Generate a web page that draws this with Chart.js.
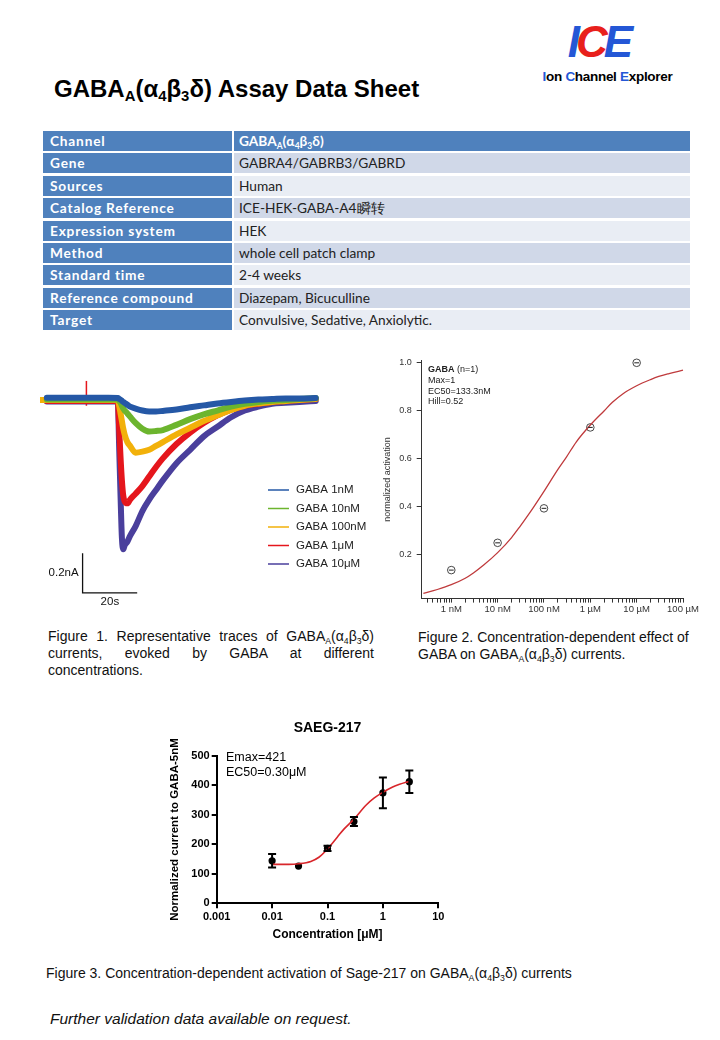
<!DOCTYPE html>
<html>
<head>
<meta charset="utf-8">
<script src="https://cdn.jsdelivr.net/npm/chart.js@4.4.0/dist/chart.umd.min.js"></script>
<style>
body { margin:0; width:720px; height:1040px; background:#fff; position:relative; overflow:hidden; font-family:"Liberation Sans", Arial, sans-serif; color:#000; }
.abs { position:absolute; }
sub { font-size:0.62em; vertical-align:-0.3em; line-height:0; }
#title { left:54px; top:75px; font-size:24px; font-weight:bold; white-space:nowrap; }
#logo { left:535px; top:20px; width:145px; text-align:center; }
#logo .big { font-size:44px; font-weight:900; font-style:italic; letter-spacing:-4px; line-height:44px; padding-right:18px; }
#logo .small { font-size:13.5px; font-weight:bold; letter-spacing:-0.3px; margin-top:5px; white-space:nowrap; }
.row { position:absolute; left:43px; width:647px; height:20px; font-family:Lato, "Open Sans", sans-serif; font-size:13.7px; }
.row div { position:absolute; top:0; height:20px; line-height:20px; white-space:nowrap; }
.row .k { left:0; width:182px; padding-left:7px; background:#4f81bd; color:#fff; font-weight:bold; letter-spacing:0.8px; }
.row .v { left:191px; width:451px; padding-left:5px; color:#222; }
.cap { font-size:14px; line-height:17px; color:#111; }
canvas { position:absolute; }
</style>
</head>
<body>
<div id="title" class="abs">GABA<sub>A</sub>(α<sub>4</sub>β<sub>3</sub>δ) Assay Data Sheet</div>
<div id="logo" class="abs">
  <div class="big"><span style="color:#2457d6">I</span><span style="color:#e8201c">C</span><span style="color:#2457d6">E</span></div>
  <div class="small"><span style="color:#2457d6">I</span>on <span style="color:#2457d6">C</span>hannel <span style="color:#2457d6">E</span>xplorer</div>
</div>
<div id="table"></div>

<canvas id="fig1" width="345" height="245" style="left:30px;top:370px"></canvas>
<canvas id="fig2" width="320" height="267" style="left:380px;top:350px"></canvas>
<canvas id="fig3" width="290" height="235" style="left:160px;top:715px"></canvas>

<div class="abs cap" style="left:48px;top:628px;width:326px;text-align:justify;text-align-last:left">Figure 1. Representative traces of GABA<sub>A</sub>(α<sub>4</sub>β<sub>3</sub>δ) currents, evoked by GABA at different concentrations.</div>
<div class="abs cap" style="left:418px;top:629px;width:282px">Figure 2. Concentration-dependent effect of GABA on GABA<sub>A</sub>(α<sub>4</sub>β<sub>3</sub>δ) currents.</div>
<div class="abs cap" style="left:46px;top:965px;white-space:nowrap">Figure 3. Concentration-dependent activation of Sage-217 on GABA<sub>A</sub>(α<sub>4</sub>β<sub>3</sub>δ) currents</div>
<div class="abs" style="left:50px;top:1010px;font-size:15.5px;font-style:italic;color:#111">Further validation data available on request.</div>

<script>
// ---- table ----
const tableKeys = ['Channel', 'Gene', 'Sources', 'Catalog Reference', 'Expression system', 'Method', 'Standard time', 'Reference compound', 'Target'];
const tableVals = ['GABA<sub>A</sub>(α<sub>4</sub>β<sub>3</sub>δ)', 'GABRA4/GABRB3/GABRD', 'Human', 'ICE-HEK-GABA-A4瞬转', 'HEK',
  'whole cell patch clamp', '2-4 weeks', 'Diazepam, Bicuculline', 'Convulsive, Sedative, Anxiolytic.'];

// ---- figure 1: traces (time in s, current in nA) ----
const traceTime = [0, 2.5, 5, 10, 15, 16.8, 17, 17.2, 20, 25, 28.5, 29, 29.5, 30, 30.5, 31, 32, 33, 35, 37.5, 40, 42.5, 45, 50, 55, 60, 65, 70, 75, 80, 85, 90, 95, 101];
const gaba1nM   = [null, 0.012, 0.012, 0.012, 0.012, 0.012, 0.012, 0.012, 0.012, 0.012, 0.01, 0.006, 0.002, -0.004, -0.01, -0.015, -0.025, -0.035, -0.045, -0.055, -0.06, -0.06, -0.057, -0.05, -0.038, -0.028, -0.018, -0.01, -0.003, 0.002, 0.005, 0.008, 0.008, 0.01];
const gaba10nM  = [null, 0.003, 0.003, 0.003, 0.003, 0.003, 0.003, 0.003, 0.003, 0.003, 0.003, -0.005, -0.015, -0.03, -0.045, -0.055, -0.07, -0.087, -0.12, -0.15, -0.165, -0.162, -0.157, -0.13, -0.1, -0.075, -0.055, -0.035, -0.02, -0.01, -0.004, 0, 0.005, 0.01];
const gaba100nM = [0, 0, 0, 0, 0, 0, 0, 0, 0, 0, 0, -0.03, -0.07, -0.11, -0.15, -0.18, -0.22, -0.24, -0.275, -0.27, -0.26, -0.24, -0.22, -0.18, -0.145, -0.11, -0.08, -0.052, -0.03, -0.018, -0.01, -0.005, 0, 0.005];
const gaba1uM   = [null, -0.005, -0.005, -0.005, -0.005, -0.005, -0.005, -0.005, -0.005, -0.005, -0.005, -0.15, -0.3, -0.42, -0.5, -0.53, -0.54, -0.52, -0.49, -0.45, -0.4, -0.35, -0.305, -0.23, -0.17, -0.12, -0.08, -0.05, -0.03, -0.02, -0.01, -0.005, 0, 0.005];
const gaba10uM  = [null, -0.008, -0.008, -0.008, -0.008, -0.008, -0.008, -0.008, -0.008, -0.008, -0.008, -0.25, -0.5, -0.72, -0.78, -0.76, -0.74, -0.71, -0.66, -0.58, -0.52, -0.47, -0.42, -0.33, -0.26, -0.19, -0.14, -0.09, -0.055, -0.035, -0.02, -0.015, -0.01, -0.005];
const spikeTime = [17, 17];
const spikeVal = [-0.03, 0.1];
const traceLabels = ['GABA 1nM', 'GABA 10nM', 'GABA 100nM', 'GABA 1μM', 'GABA 10μM'];
const traceColors = ['#2558a6', '#6cb52e', '#f2b10a', '#e5161c', '#4a3f9c'];
const barTime = [15.6, 15.6, 35.6];
const barVal = [-0.8, -1.008, -1.008];

// ---- figure 2: GABA concentration-response (nM) ----
const gabaConc = [1, 10, 100, 1000, 10000];
const gabaAct = [0.134, 0.248, 0.392, 0.73, 1.0];
const gabaFitConc = [0.25, 0.5, 1, 2, 3, 5, 10, 20, 30, 50, 100, 200, 300, 500, 1000, 2000, 3000, 5000, 10000, 20000, 30000, 50000, 100000];
const gabaFitAct = [0.037, 0.053, 0.073, 0.1, 0.122, 0.155, 0.207, 0.27, 0.315, 0.375, 0.463, 0.555, 0.604, 0.67, 0.74, 0.8, 0.835, 0.87, 0.904, 0.93, 0.943, 0.955, 0.969];
const gabaTickLabels = { 1: '1 nM', 10: '10 nM', 100: '100 nM', 1000: '1 µM', 10000: '10 µM', 100000: '100 µM' };

// ---- figure 3: SAEG-217 (µM) ----
const saegConc = [0.01, 0.03, 0.1, 0.3, 1, 3];
const saegMean = [144, 126, 186, 277, 374, 412];
const saegErr = [23, 0, 9, 15, 52, 38];
const saegFitConc = [0.01, 0.02, 0.03, 0.05, 0.07, 0.1, 0.15, 0.2, 0.3, 0.5, 0.7, 1, 1.5, 2, 3];
const saegFitVal = [132, 132, 134, 142, 156, 184, 224, 252, 285, 333, 357, 376, 394, 403, 413];
const saegXTicks = [0.001, 0.01, 0.1, 1, 10];

// table
const tbl = document.getElementById('table');
tableKeys.forEach((k, i) => {
  const r = document.createElement('div');
  r.className = 'row';
  r.style.top = (131 + i * 22.4) + 'px';
  if (i === 0) r.style.height = '21px';
  let bg = i === 0 ? '#4f81bd' : (i % 2 === 1 ? '#d0d8e8' : '#e9edf4');
  let col = i === 0 ? 'color:#fff;font-weight:bold;' : '';
  r.innerHTML = '<div class="k">' + k + '</div><div class="v" style="background:' + bg + ';' + col + '">' + tableVals[i] + '</div>';
  tbl.appendChild(r);
});

Chart.defaults.font.family = '"Liberation Sans", Arial, sans-serif';
Chart.defaults.animation = false;

const xy = (xs, ys) => xs.map((x, i) => ({ x: x, y: ys[i] }));

// figure 1
const fig1Labels = {
  id: 'fig1Labels',
  afterDraw(chart) {
    const { ctx, scales: { x, y } } = chart;
    ctx.save();
    traceLabels.forEach((lab, i) => {
      const yy = 120 + i * 18.5;
      ctx.strokeStyle = traceColors[i];
      ctx.lineWidth = 1.5;
      ctx.beginPath(); ctx.moveTo(238, yy); ctx.lineTo(259, yy); ctx.stroke();
      ctx.fillStyle = '#222';
      ctx.font = '11.5px "Liberation Sans", Arial';
      ctx.textBaseline = 'middle';
      ctx.fillText(lab, 266, yy);
    });
    ctx.fillStyle = '#111';
    ctx.font = '11.5px "Liberation Sans", Arial';
    ctx.textAlign = 'right';
    ctx.textBaseline = 'middle';
    ctx.fillText('0.2nA', x.getPixelForValue(barTime[0]) - 4, y.getPixelForValue(-0.905));
    ctx.textAlign = 'center';
    ctx.textBaseline = 'top';
    ctx.fillText('20s', x.getPixelForValue(25.6), y.getPixelForValue(barVal[2]) + 3);
    ctx.restore();
  }
};

const traces = [gaba1nM, gaba10nM, gaba100nM, gaba1uM, gaba10uM];
new Chart(document.getElementById('fig1'), {
  type: 'line',
  data: {
    datasets: traces.map((vals, i) => ({
      data: xy(traceTime, vals),
      borderColor: traceColors[i],
      borderWidth: 6,
      pointRadius: 0,
      cubicInterpolationMode: 'monotone',
      borderJoinStyle: 'round',
      borderCapStyle: 'round'
    })).concat([
      { data: xy(spikeTime, spikeVal), borderColor: traceColors[3], borderWidth: 1.5, pointRadius: 0 },
      { data: xy(barTime, barVal), borderColor: '#111', borderWidth: 1.3, pointRadius: 0, tension: 0 }
    ])
  },
  options: {
    responsive: false,
    layout: { padding: { left: 10, top: 10.85, right: 7.4, bottom: 14 } },
    plugins: { legend: { display: false }, tooltip: { enabled: false } },
    scales: {
      x: { type: 'linear', min: 0, max: 120, display: false },
      y: { min: -1.05, max: 0.1, display: false }
    }
  },
  plugins: [fig1Labels]
});

// figure 2
const fig2Text = {
  id: 'fig2Text',
  afterDatasetsDraw(chart) {
    const { ctx, scales: { x, y } } = chart;
    ctx.save();
    ctx.strokeStyle = '#333';
    ctx.lineWidth = 1.1;
    gabaConc.forEach((c, i) => {
      const px = x.getPixelForValue(c), py = y.getPixelForValue(gabaAct[i]);
      ctx.beginPath(); ctx.moveTo(px - 2.4, py); ctx.lineTo(px + 2.4, py); ctx.stroke();
    });
    ctx.restore();
  },
  afterDraw(chart) {
    const { ctx } = chart;
    ctx.save();
    ctx.fillStyle = '#222';
    ctx.textBaseline = 'middle';
    ctx.font = 'bold 9px "Liberation Sans", Arial';
    ctx.fillText('GABA', 48, 20);
    const w = ctx.measureText('GABA ').width;
    ctx.font = '9px "Liberation Sans", Arial';
    ctx.fillText('(n=1)', 48 + w, 20);
    ctx.fillText('Max=1', 48, 31);
    ctx.fillText('EC50=133.3nM', 48, 42);
    ctx.fillText('Hill=0.52', 48, 52);
    ctx.restore();
  }
};

const minorTicks2 = [];
[0.1, 1, 10, 100, 1000, 10000].forEach(d => {
  for (let m = 1; m < 10; m++) { const v = d * m; if (v >= 0.3) minorTicks2.push(v); }
});
minorTicks2.push(100000);

new Chart(document.getElementById('fig2'), {
  type: 'scatter',
  data: {
    datasets: [
      { data: xy(gabaFitConc, gabaFitAct), showLine: true, borderColor: '#bf3a3c', borderWidth: 1.3, pointRadius: 0, cubicInterpolationMode: 'monotone' },
      { data: xy(gabaConc, gabaAct), clip: false, pointRadius: 3.8, pointBorderWidth: 0.9, pointBorderColor: '#333', pointBackgroundColor: '#fff' }
    ]
  },
  options: {
    responsive: false,
    layout: { padding: { left: 0, top: 10.3, right: 14, bottom: 0 } },
    plugins: { legend: { display: false }, tooltip: { enabled: false } },
    scales: {
      x: {
        type: 'logarithmic', min: 0.23, max: 105000,
        afterBuildTicks: s => { s.ticks = minorTicks2.map(v => ({ value: v })); },
        afterFit: s => { s.height = 18.4; },
        ticks: { autoSkip: false, maxRotation: 0, padding: 1, color: '#333', font: { size: 9.5 }, callback: v => gabaTickLabels[v] || '' },
        grid: { drawOnChartArea: false, tickLength: 4, color: '#333' },
        border: { color: '#333', width: 1 }
      },
      y: {
        min: 0.015, max: 1.01,
        afterBuildTicks: s => { s.ticks = [0.2, 0.4, 0.6, 0.8, 1.0].map(v => ({ value: v })); },
        afterFit: s => { s.width = 41.7; },
        ticks: { padding: 5, color: '#333', font: { size: 9 }, callback: v => v.toFixed(1) },
        grid: { drawOnChartArea: false, tickLength: 5, color: '#333' },
        border: { color: '#333', width: 1 },
        title: { display: true, text: 'normalized activation', color: '#333', font: { size: 9 }, padding: { top: 2.6, bottom: 0 } }
      }
    }
  },
  plugins: [fig2Text]
});

// figure 3
const errorBars = {
  id: 'errorBars',
  afterDatasetsDraw(chart) {
    const { ctx, scales: { x, y } } = chart;
    ctx.save();
    ctx.strokeStyle = '#000';
    ctx.lineWidth = 2;
    saegConc.forEach((c, i) => {
      if (!saegErr[i]) return;
      const px = x.getPixelForValue(c);
      const top = y.getPixelForValue(saegMean[i] + saegErr[i]);
      const bot = y.getPixelForValue(saegMean[i] - saegErr[i]);
      ctx.beginPath();
      ctx.moveTo(px, top); ctx.lineTo(px, bot);
      ctx.moveTo(px - 4, top); ctx.lineTo(px + 4, top);
      ctx.moveTo(px - 4, bot); ctx.lineTo(px + 4, bot);
      ctx.stroke();
    });
    ctx.restore();
  },
  afterDraw(chart) {
    const { ctx, chartArea } = chart;
    ctx.save();
    ctx.fillStyle = '#000';
    ctx.textAlign = 'center';
    ctx.textBaseline = 'middle';
    ctx.font = 'bold 14px "Liberation Sans", Arial';
    ctx.fillText('SAEG-217', (chartArea.left + chartArea.right) / 2, 13);
    ctx.textAlign = 'left';
    ctx.font = '12.5px "Liberation Sans", Arial';
    ctx.fillText('Emax=421', 66, 43);
    ctx.fillText('EC50=0.30μM', 66, 58);
    ctx.restore();
  }
};

new Chart(document.getElementById('fig3'), {
  type: 'scatter',
  data: {
    datasets: [
      { data: xy(saegFitConc, saegFitVal), showLine: true, borderColor: '#d8262b', borderWidth: 1.6, pointRadius: 0, cubicInterpolationMode: 'monotone' },
      { data: xy(saegConc, saegMean), pointRadius: 3.6, pointBackgroundColor: '#000', pointBorderColor: '#000', pointBorderWidth: 0 }
    ]
  },
  options: {
    responsive: false,
    layout: { padding: { left: 0, top: 40.7, right: 11.7, bottom: 0 } },
    plugins: { legend: { display: false }, tooltip: { enabled: false } },
    scales: {
      x: {
        type: 'logarithmic', min: 0.001, max: 10,
        afterBuildTicks: s => { s.ticks = saegXTicks.map(v => ({ value: v })); },
        afterFit: s => { s.height = 46.7; },
        ticks: { autoSkip: false, maxRotation: 0, padding: 2, color: '#000', font: { size: 11, weight: 'bold' }, callback: v => String(v) },
        grid: { drawOnChartArea: false, tickLength: 5, color: '#000', lineWidth: 2 },
        border: { color: '#000', width: 2 },
        title: { display: true, text: 'Concentration [μM]', color: '#000', font: { size: 12, weight: 'bold' }, padding: { top: 0, bottom: 7.8 } }
      },
      y: {
        min: 0, max: 500,
        afterBuildTicks: s => { s.ticks = [0, 100, 200, 300, 400, 500].map(v => ({ value: v })); },
        afterFit: s => { s.width = 56.7; },
        ticks: { padding: 2, color: '#000', font: { size: 11, weight: 'bold' } },
        grid: { drawOnChartArea: false, tickLength: 5, color: '#000', lineWidth: 2 },
        border: { color: '#000', width: 2 },
        title: { display: true, text: 'Normalized current to GABA-5nM', color: '#000', font: { size: 11.5, weight: 'bold' }, padding: { top: 8.1, bottom: 0 } }
      }
    }
  },
  plugins: [errorBars]
});
</script>
</body>
</html>
